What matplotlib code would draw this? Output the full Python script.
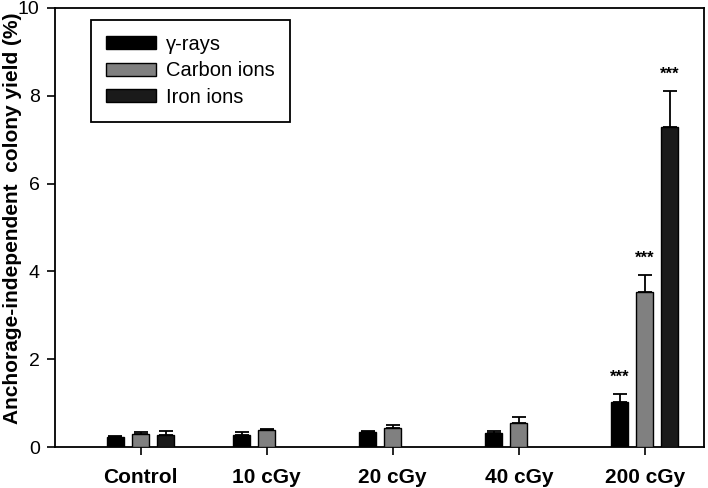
import matplotlib
matplotlib.use("Agg")
import matplotlib.pyplot as plt
import numpy as np

plt.rcParams['font.family'] = ['Liberation Sans', 'DejaVu Sans']

categories = ["Control", "10 cGy", "20 cGy", "40 cGy", "200 cGy"]
series = ["γ-rays", "Carbon ions", "Iron ions"]
gamma = [0.23, 0.28, 0.34, 0.32, 1.03]
gamma_err = [0.02, 0.06, 0.02, 0.05, 0.18]
carbon = [0.30, 0.38, 0.44, 0.55, 3.52]
carbon_err = [0.05, 0.02, 0.06, 0.13, 0.40]
iron = [0.27, np.nan, np.nan, np.nan, 7.30]
iron_err = [0.10, np.nan, np.nan, np.nan, 0.82]
stars = ["", "", "", "", "***"]

colors = ["#000000", "#808080", "#1a1a1a"]

fig = plt.figure(figsize=(7.08, 4.88), dpi=100)
ax = fig.add_axes([55/708, 1-447/488, (704-55)/708, (447-8)/488])

x = np.arange(len(categories))
w = 0.135
off = 0.2
data = [(gamma, gamma_err), (carbon, carbon_err), (iron, iron_err)]
for i, (vals, errs) in enumerate(data):
    pos = x + (i-1)*off
    v = np.array(vals, float); e = np.array(errs, float)
    mask = ~np.isnan(v)
    ax.bar(pos[mask], v[mask], width=w, color=colors[i], edgecolor='black', linewidth=1.0,
           label=series[i], zorder=3)
    ax.errorbar(pos[mask], v[mask], yerr=[np.zeros(mask.sum()), e[mask]], fmt='none',
                ecolor='black', elinewidth=1.3, capsize=5, capthick=1.3, zorder=2)
    for p, vv, ee, s in zip(pos[mask], v[mask], e[mask], np.array(stars)[mask]):
        if s:
            ax.text(p, vv+ee+0.2, s, ha='center', va='bottom', fontsize=12, fontweight='bold')

ax.set_xlim(-0.68, 4.47)
ax.set_ylim(0, 10)
ax.set_yticks([0, 2, 4, 6, 8, 10])
ax.set_xticks(x)
ax.set_xticklabels(categories, fontsize=15, fontweight='bold')
for t in ax.get_yticklabels():
    t.set_fontsize(14)
ax.tick_params(axis='both', direction='out', length=6, width=1.2)
ax.tick_params(axis='x', pad=9)
ax.tick_params(axis='y', pad=5)
ax.set_ylabel("Anchorage-independent  colony yield (%)", fontsize=15, fontweight='bold')
ax.yaxis.set_label_coords(-0.051, 0.52)
for sp in ax.spines.values():
    sp.set_linewidth(1.3)

leg = ax.legend(loc='upper left', bbox_to_anchor=(0.055, 0.973), fontsize=14.5,
                handlelength=2.5, handleheight=0.6, handletextpad=0.5, fancybox=False,
                edgecolor='black', framealpha=1, borderpad=0.75, labelspacing=0.37,
                borderaxespad=0)
leg.get_frame().set_linewidth(1.3)

fig.savefig("out.png", dpi=100)
